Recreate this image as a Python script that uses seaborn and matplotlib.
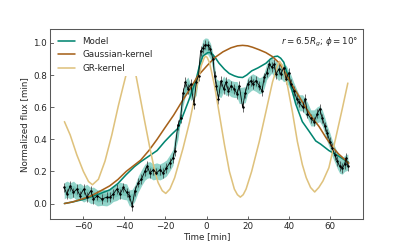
import numpy as np
import matplotlib
matplotlib.use("Agg")
import matplotlib.pyplot as plt
import pandas as pd
import seaborn as sns

obs_t = [-69.1, -67.8, -66.2, -64.6, -63.0, -61.4, -59.7, -58.1, -56.2, -54.9,
         -53.0, -50.9, -48.5, -46.9, -45.3, -43.6, -42.0, -40.4, -38.8, -37.5,
         -36.1, -34.8, -33.2, -31.6, -30.0, -28.8, -27.5, -25.9, -24.3, -22.7,
         -21.1, -19.5, -17.9, -16.3, -15.5, -13.9, -12.6, -11.4, -10.3, -9.0,
         -7.7, -6.1, -5.0, -3.9, -2.9, -1.8, -0.6, 0.6, 1.9, 3.1,
         3.9, 4.7, 5.8, 7.0, 8.3, 9.5, 10.6, 11.9, 13.5, 14.8,
         15.9, 17.5, 18.8, 19.9, 21.5, 22.4, 24.0, 25.6, 26.9, 28.0,
         29.2, 30.4, 31.6, 32.9, 33.7, 35.0, 36.1, 37.4, 38.6, 39.9,
         40.9, 42.5, 43.8, 45.0, 46.6, 47.9, 49.0, 50.6, 52.2, 53.8,
         54.9, 56.2, 57.5, 58.6, 59.9, 61.0, 62.3, 63.5, 64.6, 65.9,
         67.0, 67.8, 68.6]
obs_flux = [0.10, 0.059, 0.11, 0.069, 0.09, 0.049, 0.09, 0.039, 0.08, 0.028,
            0.049, 0.028, 0.039, 0.039, 0.059, 0.09, 0.059, 0.10, 0.069, 0.049,
            -0.014, 0.08, 0.13, 0.151, 0.20, 0.233, 0.19, 0.21, 0.19, 0.21,
            0.19, 0.22, 0.253, 0.284, 0.325, 0.49, 0.53, 0.69, 0.755, 0.713,
            0.744, 0.62, 0.755, 0.795, 0.95, 0.97, 0.99, 0.985, 0.96, 0.90,
            0.795, 0.734, 0.652, 0.765, 0.713, 0.755, 0.70, 0.734, 0.713, 0.683,
            0.734, 0.60, 0.69, 0.744, 0.765, 0.745, 0.765, 0.734, 0.70, 0.785,
            0.815, 0.867, 0.85, 0.867, 0.805, 0.836, 0.805, 0.846, 0.775, 0.815,
            0.744, 0.70, 0.652, 0.63, 0.60, 0.652, 0.56, 0.53, 0.51, 0.56,
            0.59, 0.53, 0.48, 0.437, 0.386, 0.345, 0.304, 0.264, 0.233, 0.22,
            0.245, 0.284, 0.233]
obs_err = 0.03

# Best-fit model
model_t = [-69, -65, -60, -56.5, -52, -47, -43, -39, -35, -32, -28, -24, -20.3,
           -17, -13.9, -11.4, -9, -7, -5, -3.4, -1.8, 0.6, 2, 3.9, 6, 8.7, 11,
           13.5, 15.5, 17.5, 19.5, 21.9, 25, 28.8, 31, 33, 34.5, 36, 37.5, 40,
           43.3, 46.5, 49.8, 53, 55.4, 59.4, 64.3, 69]
model_flux = [0.0, 0.01, 0.025, 0.04, 0.06, 0.085, 0.125, 0.18, 0.23, 0.26, 0.295,
              0.33, 0.386, 0.43, 0.468, 0.55, 0.63, 0.70, 0.775, 0.86, 0.918, 0.94,
              0.94, 0.915, 0.875, 0.836, 0.81, 0.795, 0.787, 0.785, 0.80, 0.826,
              0.845, 0.873, 0.90, 0.915, 0.918, 0.905, 0.88, 0.775, 0.62, 0.51,
              0.45, 0.39, 0.37, 0.33, 0.294, 0.255]

# Gaussian-kernel curve
gauss_t = [-69, -65, -60, -56.5, -52, -47, -43, -39, -35, -32, -28, -24, -20.3,
           -16, -12.2, -8, -4.2, 0, 3.9, 8, 11.9, 15, 17.5, 20, 22.4, 25.5, 28.8,
           32, 35.3, 38.5, 41.7, 45, 48, 51.3, 54.6, 58, 61, 64, 67.5, 69]
gauss_flux = [0.0, 0.01, 0.03, 0.045, 0.075, 0.11, 0.15, 0.20, 0.24, 0.27, 0.33,
              0.40, 0.47, 0.55, 0.63, 0.715, 0.795, 0.855, 0.908, 0.945, 0.97,
              0.982, 0.985, 0.982, 0.973, 0.958, 0.94, 0.915, 0.875, 0.81, 0.734,
              0.665, 0.60, 0.535, 0.48, 0.41, 0.355, 0.31, 0.27, 0.25]

# GR-kernel curve
gr_t = [-69, -66.2, -63, -59.8, -57.3, -55.4, -52.5, -49.3, -46, -42.8, -40.4,
        -39.1, -37.8, -36.8, -35.6, -34.3, -32.4, -30, -27.5, -25.1, -23.5,
        -21.5, -19.8, -17.8, -15.5, -13.5, -11.4, -8.2, -5, -2.6, -1.2, -0.5,
        0.3, 1.45, 3.9, 6.3, 8.7, 11.1, 13.5, 15, 16.4, 17.8, 19.2, 21.9, 25.6,
        28.8, 32, 34.4, 35.5, 36.9, 39.3, 41.7, 44.1, 46.5, 48.4, 50.5, 52.5,
        54.5, 56.5, 59.4, 62.7, 65.9, 68.6]
gr_flux = [0.51, 0.427, 0.304, 0.20, 0.137, 0.117, 0.151, 0.264, 0.427, 0.61,
           0.734, 0.80, 0.86, 0.88, 0.85, 0.80, 0.672, 0.51, 0.345, 0.20, 0.13,
           0.08, 0.063, 0.09, 0.16, 0.25, 0.345, 0.51, 0.71, 0.857, 0.905, 0.918,
           0.91, 0.877, 0.734, 0.55, 0.366, 0.20, 0.09, 0.055, 0.04, 0.055, 0.09,
           0.20, 0.386, 0.57, 0.755, 0.856, 0.885, 0.856, 0.734, 0.57, 0.386,
           0.243, 0.161, 0.10, 0.072, 0.10, 0.14, 0.223, 0.407, 0.59, 0.75]

c_model = "#018571"
c_gauss = "#a6611a"
c_gr = "#dfc27d"
c_band = "#80cdc1"

sns.set_style("ticks")
plt.rcParams["font.family"] = ["DejaVu Sans"]

fig, ax = plt.subplots(figsize=(6.4, 4.0), dpi=63)
fig.subplots_adjust(left=0.124, right=0.9, bottom=0.13, top=0.884)

# posterior spread of the model, drawn as a band around the (smoothed) data
obs = pd.DataFrame({"t": obs_t, "flux": obs_flux})
centre = obs["flux"].rolling(3, center=True, min_periods=1).mean()
ax.fill_between(obs["t"], centre - 0.05, centre + 0.05, color=c_band, alpha=0.85, lw=0)
ax.fill_between(obs["t"], centre - 0.025, centre + 0.025, color="#5db8a8", alpha=0.5, lw=0)

ax.errorbar(obs_t, obs_flux, yerr=obs_err, fmt="-o", color="k", ms=1.8, lw=0.9,
            elinewidth=0.8, ecolor="0.2", capsize=0)

sns.lineplot(x=model_t, y=model_flux, color=c_model, lw=1.8, label="Model", ax=ax)
sns.lineplot(x=gauss_t, y=gauss_flux, color=c_gauss, lw=1.8, label="Gaussian-kernel", ax=ax)
sns.lineplot(x=gr_t, y=gr_flux, color=c_gr, lw=1.8, label="GR-kernel", ax=ax)

leg = ax.legend(loc="upper left", frameon=True, framealpha=1, edgecolor="none",
                facecolor="white", fontsize=10)

ax.text(0.985, 0.93, r"$r=6.5R_g$; $\phi=10\degree$", transform=ax.transAxes,
        ha="right", va="center", fontsize=10)

ax.set_xticks([-60, -40, -20, 0, 20, 40, 60])
ax.set_yticks([0.0, 0.2, 0.4, 0.6, 0.8, 1.0])
ax.set_xlabel("Time [min]", fontsize=10, labelpad=1)
ax.set_ylabel("Normalized flux [min]", fontsize=10)
ax.tick_params(direction="in", length=4, labelsize=10)
for s in ax.spines.values():
    s.set_visible(True)
    s.set_color("0.35")
    s.set_linewidth(1.2)

plt.savefig("out.png", dpi=63)
